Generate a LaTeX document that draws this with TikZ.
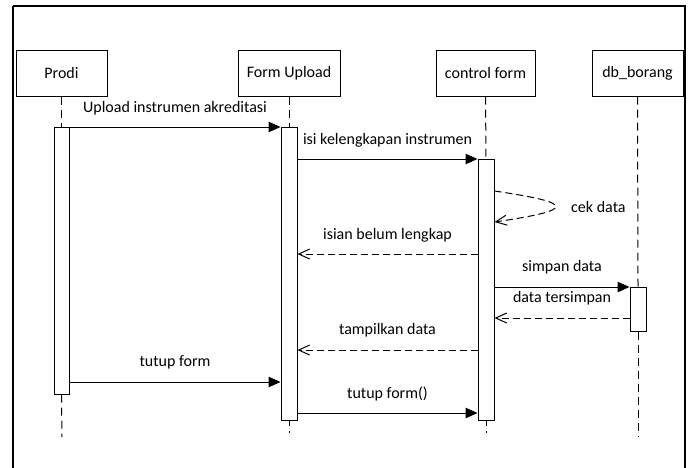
\documentclass[tikz,border=0pt]{standalone}
\usepackage{fontspec}
\setmainfont{Carlito}
\usetikzlibrary{arrows.meta}
\begin{document}
\begin{tikzpicture}[x=1pt,y=-1pt,
  every node/.style={font=\fontsize{16}{19}\selectfont, inner sep=0pt},
  headbox/.style={draw, line width=1pt, minimum height=46pt},
  actbox/.style={draw, line width=1pt, fill=white, minimum width=16pt},
  life/.style={line width=1pt, dash pattern=on 8pt off 5pt},
  syncmsg/.style={line width=1pt, -{Triangle[length=12pt,width=10.5pt]}},
  retmsg/.style={line width=1pt, dash pattern=on 7pt off 4pt, -{Straight Barb[length=11pt,width=10pt,line width=1pt]}},
  lbl/.style={}]
\useasboundingbox (0,0) rectangle (692,467);
\begin{scope}
\clip (0,0) rectangle (692,467);
\draw[line width=2pt] (13,6) -- (685,6) -- (685,480) (13,6) -- (13,480);
\end{scope}
% headers
\node[headbox, minimum width=91pt] (hp) at (61.5,73) {Prodi};
\node[headbox, minimum width=102pt] (hf) at (289,73) {Form Upload};
\node[headbox, minimum width=99pt] (hc) at (485.5,73) {control form};
\node[headbox, minimum width=91pt] (hd) at (637.5,73) {db\_borang};
% lifeline ends
\coordinate (ep) at (62,437);
\coordinate (ef) at (289,433);
\coordinate (ec) at (486,433);
\coordinate (ed) at (638,437);
% activation bars
\node[actbox, minimum width=15pt, minimum height=267pt] (ap) at (61.5,260.5) {};
\node[actbox, minimum height=293pt] (af) at (289,273.5) {};
\node[actbox, minimum height=261pt] (ac) at (486,289.5) {};
\node[actbox, minimum height=44pt] (ad) at (638,309) {};
% lifelines
\draw[life] (hp.south) -- (ap.north);
\draw[life] (ap.south) -- (ep);
\draw[life] (hf.south) -- (af.north);
\draw[life, dash phase=3pt] (af.south) -- (ef);
\draw[life] (hc.south) -- (ac.north);
\draw[life, dash phase=3pt] (ac.south) -- (ec);
\draw[life] (hd.south) -- (ad.north);
\draw[life] (ad.south) -- (ed);
% row coordinates
\coordinate (r1) at (0,127);
\coordinate (r2) at (0,159);
\coordinate (r4) at (0,254);
\coordinate (r5) at (0,287);
\coordinate (r6) at (0,318);
\coordinate (r7) at (0,350);
\coordinate (r8) at (0,382);
\coordinate (r9) at (0,413);
% messages
\draw[syncmsg] (ap.east |- r1) -- node[above=11pt] {Upload instrumen akreditasi} (af.west |- r1);
\draw[syncmsg] (af.east |- r2) -- node[above=11pt] {isi kelengkapan instrumen} (ac.west |- r2);
\coordinate (s1) at (494,191);
\coordinate (s2) at (494,222);
\draw[retmsg] (ac.east |- s1) .. controls (576,203) and (576,210) .. (ac.east |- s2);
\node[anchor=west] (cek) at (571,207) {cek data};
\draw[retmsg] (ac.west |- r4) -- node[above=11pt] {isian belum lengkap} (af.east |- r4);
\draw[syncmsg] (ac.east |- r5) -- node[above=12pt] {simpan data} (ad.west |- r5);
\draw[retmsg] (ad.west |- r6) -- node[above=12pt] {data tersimpan} (ac.east |- r6);
\draw[retmsg] (ac.west |- r7) -- node[above=12pt] {tampilkan data} (af.east |- r7);
\draw[syncmsg] (ap.east |- r8) -- node[above=12pt] {tutup form} (af.west |- r8);
\draw[syncmsg] (af.east |- r9) -- node[above=11pt] {tutup form()} (ac.west |- r9);
\end{tikzpicture}
\end{document}
